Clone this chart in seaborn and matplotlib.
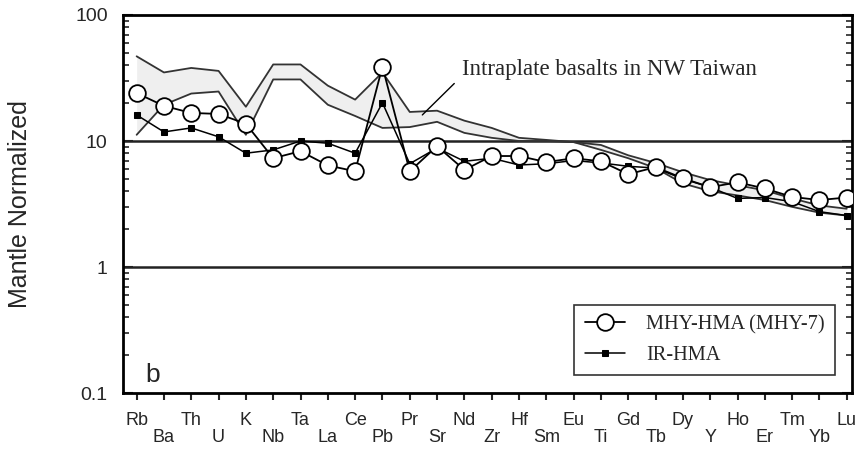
import numpy as np
import pandas as pd
import matplotlib
matplotlib.use("Agg")
import matplotlib.pyplot as plt
import seaborn as sns

elements = ["Rb", "Ba", "Th", "U", "K", "Nb", "Ta", "La", "Ce", "Pb", "Pr", "Sr", "Nd",
            "Zr", "Hf", "Sm", "Eu", "Ti", "Gd", "Tb", "Dy", "Y", "Ho", "Er", "Tm", "Yb", "Lu"]
mhy_hma = [24, 19, 16.7, 16.4, 13.7, 7.3, 8.3, 6.4, 5.75, 39, 5.75, 9.1, 5.9,
           7.6, 7.6, 6.8, 7.3, 6.9, 5.45, 6.2, 5.06, 4.3, 4.7, 4.2, 3.6, 3.4, 3.56]
ir_hma = [16.1, 11.8, 12.7, 10.8, 8.0, 8.5, 10.0, 9.6, 8.0, 20.1, 6.6, 8.8, 6.9,
          7.3, 6.45, 6.6, 7.0, 6.7, 6.3, 6.1, 5.0, 4.3, 3.5, 3.56, 3.3, 2.75, 2.56]
band_upper = [47, 35, 38, 36, 18.7, 40.5, 40.5, 27.5, 21.3, 35, 17, 17.4, 14.5,
              12.7, 10.6, 10.2, 9.8, 9.3, 7.7, 6.7, 5.65, 4.9, 4.45, 4.06, 3.5, 3.08, 2.9]
band_lower = [11.2, 19.4, 23.8, 24.7, 11.2, 30.8, 30.8, 19.4, 15.8, 12.7, 12.9, 14.2, 11.6,
              10.6, 10.0, 10.0, 9.8, 8.5, 7.3, 6.1, 4.6, 4.0, 3.7, 3.4, 3.0, 2.7, 2.56]
ytick_labels = ["0.1", "1", "10", "100"]

df = pd.DataFrame({
    "pos": np.arange(len(elements)),
    "element": elements,
    "MHY-HMA (MHY-7)": mhy_hma,
    "IR-HMA": ir_hma,
    "upper": band_upper,
    "lower": band_lower,
})

sns.set_style("ticks")
plt.rcParams["font.family"] = ["Liberation Sans", "DejaVu Sans"]
serif = ["Liberation Serif", "DejaVu Serif"]

fig = plt.figure(figsize=(8.63, 4.49), dpi=100)
ax = fig.add_axes([0.1425, 0.1247, 0.845, 0.8419])
ax.set_yscale("log")

# band
ax.fill_between(df["pos"], df["lower"], df["upper"], color="#efefef", zorder=1, lw=0)
sns.lineplot(data=df, x="pos", y="upper", ax=ax, color="#333333", lw=1.3, zorder=2, legend=False)
sns.lineplot(data=df, x="pos", y="lower", ax=ax, color="#333333", lw=1.3, zorder=2, legend=False)

# reference lines
for v in [1, 10]:
    ax.axhline(v, color="#222222", lw=1.8, zorder=1.5)

sns.lineplot(data=df, x="pos", y="IR-HMA", ax=ax, color="black", lw=1.1, marker="s",
             markersize=5, markeredgecolor="black", markerfacecolor="black",
             zorder=3, label="IR-HMA")
sns.lineplot(data=df, x="pos", y="MHY-HMA (MHY-7)", ax=ax, color="black", lw=1.3, marker="o",
             markersize=12, markeredgecolor="black", markerfacecolor="white",
             markeredgewidth=1.3, zorder=4, label="MHY-HMA (MHY-7)")

ax.set_xlim(-0.5, 26.2)
ax.set_ylim(0.1, 100)
ax.set_yticks([0.1, 1, 10, 100])
ax.set_yticklabels(ytick_labels, fontsize=14)
ax.yaxis.set_minor_locator(matplotlib.ticker.LogLocator(base=10, subs=np.arange(2, 10)))
ax.yaxis.set_minor_formatter(matplotlib.ticker.NullFormatter())
ax.tick_params(axis="y", which="major", direction="in", length=7, width=1.5, right=True, pad=11)
ax.tick_params(axis="y", which="minor", direction="in", length=4, width=1.2, right=True)

ax.set_xticks(df["pos"])
ax.set_xticklabels([e if i % 2 == 0 else "\n" + e for i, e in enumerate(elements)],
                   fontsize=13, linespacing=1.0)
ax.tick_params(axis="x", direction="out", length=5, width=1.5, pad=9)

for s in ax.spines.values():
    s.set_linewidth(2)
    s.set_color("black")

ax.set_xlabel("")
ax.set_ylabel("Mantle Normalized", fontsize=18)
ax.yaxis.set_label_coords(-0.125, 0.5)

ax.text(0.03, 0.028, "b", transform=ax.transAxes, fontsize=19, ha="left", va="baseline")

ax.annotate("", xy=(10.46, 16.1), xytext=(11.63, 28.6),
            arrowprops=dict(arrowstyle="-", color="black", lw=1, shrinkA=0, shrinkB=0))
ax.text(11.9, 37, "Intraplate basalts in NW Taiwan", fontsize=16.5, family=serif,
        va="center", ha="left")

handles, labels = ax.get_legend_handles_labels()
leg = ax.legend(handles[::-1], labels[::-1], loc="lower right", bbox_to_anchor=(0.99, 0.02),
                prop={"family": serif, "size": 14.7},
                frameon=True, fancybox=False, edgecolor="black", handlelength=2.0,
                borderpad=0.5, labelspacing=0.55, handletextpad=1.0)
leg.get_frame().set_linewidth(1.2)

fig.savefig("out.png", dpi=100)
